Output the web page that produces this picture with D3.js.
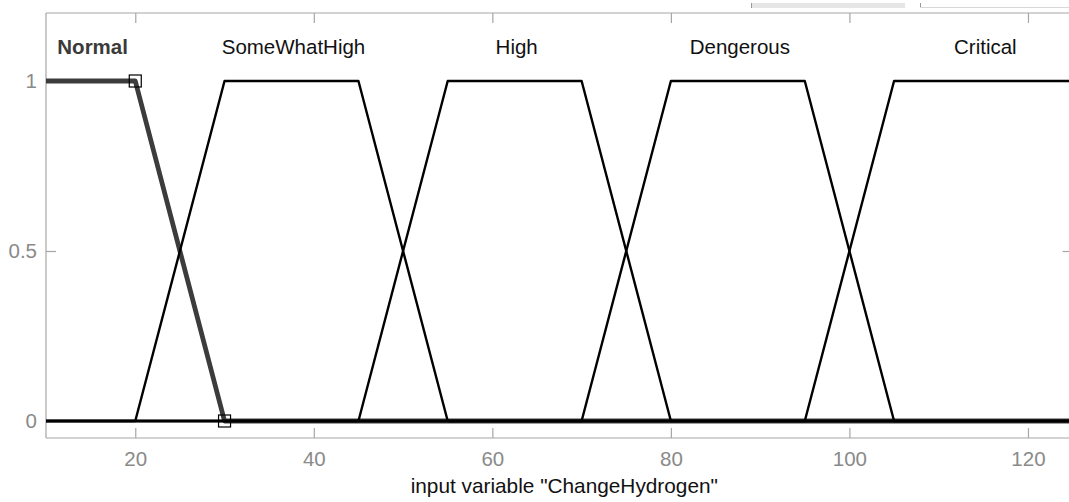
<!DOCTYPE html>
<html>
<head>
<meta charset="utf-8">
<script src="https://cdn.jsdelivr.net/npm/d3@7/dist/d3.min.js"></script>
<style>
  html, body { margin: 0; padding: 0; background: #ffffff; }
  svg { display: block; font-family: "Liberation Sans", Arial, Helvetica, sans-serif; }
</style>
</head>
<body>
<svg id="chart" width="1069" height="502"></svg>
<script>
// ---- data ----
const mfNames = ["Normal", "SomeWhatHigh", "High", "Dengerous", "Critical"];
const mfParams = [
  [-35, -5, 20, 30],
  [20, 30, 45, 55],
  [45, 55, 70, 80],
  [70, 80, 95, 105],
  [95, 105, 125, 155]
];
const selectedMF = 0;
const xDomain = [10, 125];
const yDomain = [-0.05, 1.2];
const xTicks = [20, 40, 60, 80, 100, 120];
const yTicks = [0, 0.5, 1];
const yTickLabels = ["0", "0.5", "1"];
const xTitle = 'input variable "ChangeHydrogen"';

// ---- layout ----
const W = 1069, H = 502;
const pLeft = 46, pRight = 1072.6, pTop = 13, pBottom = 438;
const svg = d3.select("#chart");
svg.append("rect").attr("width", W).attr("height", H).attr("fill", "#fff");

const x = d3.scaleLinear().domain(xDomain).range([pLeft, pRight]);
const y = d3.scaleLinear().domain(yDomain).range([pBottom, pTop]);

const axisColor = "#a6a6a6";
const labelColor = "#8a8a8a";
const fs = 20.5;

// trapezoid membership
function trap(p, v) {
  const [a, b, c, d] = p;
  if (v >= b && v <= c) return 1;
  if (v <= a || v >= d) return 0;
  if (v < b) return (v - a) / (b - a);
  return (d - v) / (d - c);
}
function mfPoints(p) {
  const xs = [xDomain[0]].concat(p.filter(v => v > xDomain[0] && v < xDomain[1]), [xDomain[1]]);
  return xs.map(v => [v, trap(p, v)]);
}

// ---- axes box ----
const g = svg.append("g");
[[pLeft, pBottom, pRight, pBottom], [pLeft, pTop, pRight, pTop], [pLeft, pTop, pLeft, pBottom], [pRight, pTop, pRight, pBottom]]
  .forEach(s => g.append("line").attr("x1", s[0]).attr("y1", s[1]).attr("x2", s[2]).attr("y2", s[3])
    .attr("stroke", axisColor).attr("stroke-width", 1.2));

// bottom axis
const xAxis = d3.axisBottom(x).tickValues(xTicks).tickSizeInner(-10).tickSizeOuter(0).tickPadding(13.5)
  .tickFormat(d3.format("d"));
const gx = svg.append("g").attr("transform", `translate(0,${pBottom})`).call(xAxis);
gx.select(".domain").remove();
gx.selectAll(".tick line").attr("stroke", axisColor).attr("stroke-width", 1.2);
gx.selectAll(".tick text").attr("fill", labelColor).attr("font-size", fs).attr("font-family", "Liberation Sans, Arial, sans-serif");

// top mirror ticks
const xAxisTop = d3.axisTop(x).tickValues(xTicks).tickSizeInner(-10).tickSizeOuter(0).tickFormat("");
const gxt = svg.append("g").attr("transform", `translate(0,${pTop})`).call(xAxisTop);
gxt.select(".domain").remove();
gxt.selectAll(".tick line").attr("stroke", axisColor).attr("stroke-width", 1.2);

// left axis
const yAxis = d3.axisLeft(y).tickValues(yTicks).tickSizeInner(-10).tickSizeOuter(0).tickPadding(9)
  .tickFormat((d, i) => yTickLabels[i]);
const gy = svg.append("g").attr("transform", `translate(${pLeft},0)`).call(yAxis);
gy.select(".domain").remove();
gy.selectAll(".tick line").attr("stroke", axisColor).attr("stroke-width", 1.2);
gy.selectAll(".tick text").attr("fill", labelColor).attr("font-size", fs).attr("font-family", "Liberation Sans, Arial, sans-serif");

// right mirror ticks
const yAxisR = d3.axisRight(y).tickValues(yTicks).tickSizeInner(-10).tickSizeOuter(0).tickFormat("");
const gyr = svg.append("g").attr("transform", `translate(${pRight},0)`).call(yAxisR);
gyr.select(".domain").remove();
gyr.selectAll(".tick line").attr("stroke", axisColor).attr("stroke-width", 1.2);

// ---- membership functions ----
const line = d3.line().x(d => x(d[0])).y(d => y(d[1]));
svg.append("clipPath").attr("id", "plotclip").append("rect")
  .attr("x", pLeft).attr("y", pTop - 5).attr("width", pRight - pLeft).attr("height", pBottom - pTop + 5);
const plot = svg.append("g").attr("clip-path", "url(#plotclip)");

// selected MF (thick, dark grey) drawn first
plot.append("path").datum(mfPoints(mfParams[selectedMF]))
  .attr("d", line).attr("fill", "none").attr("stroke", "#3c3c3c").attr("stroke-width", 4.8)
  .attr("stroke-linejoin", "round");

mfParams.forEach((p, i) => {
  if (i === selectedMF) return;
  plot.append("path").datum(mfPoints(p))
    .attr("d", line).attr("fill", "none").attr("stroke", "#000").attr("stroke-width", 2.4)
    .attr("stroke-linejoin", "round");
});

// markers on selected MF's corner params
const sel = mfParams[selectedMF].filter(v => v >= xDomain[0] && v <= xDomain[1]);
plot.selectAll("rect.mk").data(sel).enter().append("rect")
  .attr("class", "mk")
  .attr("x", d => x(d) - 6).attr("y", d => y(trap(mfParams[selectedMF], d)) - 6)
  .attr("width", 12).attr("height", 12)
  .attr("fill", "none").attr("stroke", "#000").attr("stroke-width", 1.2);

// ---- MF labels ----
mfParams.forEach((p, i) => {
  const lo = Math.max(p[1], xDomain[0]), hi = Math.min(p[2], xDomain[1]);
  svg.append("text")
    .attr("x", x((lo + hi) / 2) + 2).attr("y", y(1.1)).attr("dy", "0.35em")
    .attr("text-anchor", "middle")
    .attr("font-size", fs)
    .attr("font-weight", i === selectedMF ? "bold" : "normal")
    .attr("fill", i === selectedMF ? "#3a3a3a" : "#111")
    .text(mfNames[i]);
});

// ---- x title ----
svg.append("text").attr("x", (pLeft + pRight) / 2 + 5).attr("y", 493)
  .attr("text-anchor", "middle").attr("font-size", 20.8).attr("fill", "#111")
  .text(xTitle);

// ---- top UI artifact (window chrome) ----
svg.append("rect").attr("x", 751).attr("y", 3).attr("width", 154).attr("height", 5).attr("fill", "#e6e6e6");
svg.append("rect").attr("x", 751).attr("y", 3).attr("width", 1).attr("height", 5).attr("fill", "#999");
svg.append("rect").attr("x", 920).attr("y", 3).attr("width", 1).attr("height", 5).attr("fill", "#999");
svg.append("rect").attr("x", 920).attr("y", 7).attr("width", 149).attr("height", 1).attr("fill", "#d8d8d8");
</script>
</body>
</html>
